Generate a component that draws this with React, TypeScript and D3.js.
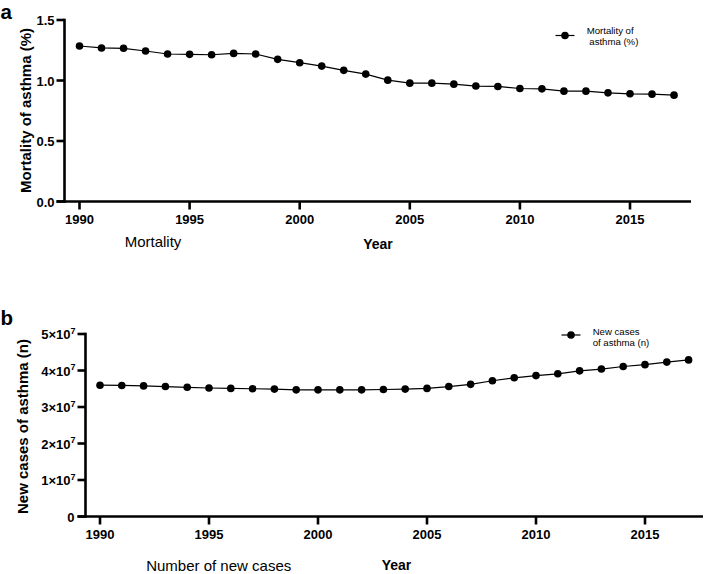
import React from "react";
import * as d3 from "d3";

const years = [1990, 1991, 1992, 1993, 1994, 1995, 1996, 1997, 1998, 1999, 2000, 2001, 2002, 2003, 2004, 2005, 2006, 2007, 2008, 2009, 2010, 2011, 2012, 2013, 2014, 2015, 2016, 2017];
const mortality = [1.285, 1.269, 1.266, 1.244, 1.219, 1.216, 1.213, 1.224, 1.219, 1.175, 1.147, 1.119, 1.084, 1.053, 1.003, 0.978, 0.978, 0.970, 0.954, 0.951, 0.934, 0.931, 0.912, 0.912, 0.898, 0.890, 0.887, 0.879];
const newCases = [35970000, 35900000, 35780000, 35600000, 35400000, 35200000, 35100000, 35000000, 34900000, 34700000, 34700000, 34700000, 34700000, 34800000, 34900000, 35100000, 35600000, 36200000, 37200000, 38000000, 38600000, 39100000, 39900000, 40400000, 41100000, 41600000, 42300000, 42900000];
const xTicks = [1990, 1995, 2000, 2005, 2010, 2015];
const mortTicks = [0, 0.5, 1.0, 1.5];
const mortTickLabels = ["0.0", "0.5", "1.0", "1.5"];
const caseTicks = [0, 10000000, 20000000, 30000000, 40000000, 50000000];
const caseTickMantissa = ["0", "1", "2", "3", "4", "5"];

const FONT = "'Liberation Sans', Arial, Helvetica, sans-serif";

type PanelProps = {
  letter: string;
  letterY: number;
  values: number[];
  yMax: number;
  ticks: number[];
  renderTick: (i: number, x: number, y: number) => React.ReactNode;
  axisX: number;
  axisRight: number;
  axisY: number;
  axisTop: number;
  x1990: number;
  x2015: number;
  yTitle: string;
  yTitleX: number;
  yTitleY: number;
  bottomLeft: string;
  bottomLeftX: number;
  bottomY: number;
  yearX: number;
  yearY: number;
  legendX: number;
  legendY: number;
  legendLines: { text: string; dx: number; y: number }[];
};

function Panel(p: PanelProps) {
  const pxPerYear = (p.x2015 - p.x1990) / 25;
  const x0 = 1990 - (p.x1990 - p.axisX) / pxPerYear;
  const x1 = 1990 + (p.axisRight - p.x1990) / pxPerYear;
  const x = d3.scaleLinear().domain([x0, x1]).range([p.axisX, p.axisRight]);
  const y = d3.scaleLinear().domain([0, p.yMax]).range([p.axisY, p.axisTop]);
  const line = d3
    .line<number>()
    .x((_, i) => x(years[i]))
    .y((d) => y(d));
  const sw = 2.6;
  return (
    <g fontFamily={FONT}>
      <text x={0.5} y={p.letterY} fontSize={20.5} fontWeight="bold">{p.letter}</text>
      {/* y axis */}
      <line x1={p.axisX} x2={p.axisX} y1={p.axisTop - sw / 2} y2={p.axisY + sw / 2} stroke="#000" strokeWidth={sw} />
      {p.ticks.map((t, i) => (
        <g key={"yt" + i}>
          <line x1={p.axisX - 8} x2={p.axisX} y1={y(t)} y2={y(t)} stroke="#000" strokeWidth={sw} />
          {p.renderTick(i, p.axisX - 10, y(t))}
        </g>
      ))}
      {/* x axis */}
      <line x1={p.axisX - 8} x2={p.axisRight} y1={p.axisY} y2={p.axisY} stroke="#000" strokeWidth={sw} />
      {xTicks.map((t) => (
        <g key={"xt" + t}>
          <line x1={x(t)} x2={x(t)} y1={p.axisY} y2={p.axisY + 8} stroke="#000" strokeWidth={sw} />
          <text x={x(t)} y={p.axisY + 22} fontSize={13} fontWeight="bold" textAnchor="middle">{t}</text>
        </g>
      ))}
      {/* data */}
      <path d={line(p.values) || ""} fill="none" stroke="#000" strokeWidth={1.2} />
      {p.values.map((v, i) => (
        <circle key={"c" + i} cx={x(years[i])} cy={y(v)} r={3.8} fill="#000" />
      ))}
      {/* y title */}
      <text transform={`translate(${p.yTitleX},${p.yTitleY}) rotate(-90)`} fontSize={15} fontWeight="bold" textAnchor="middle">{p.yTitle}</text>
      {/* bottom labels */}
      <text x={p.bottomLeftX} y={p.bottomY} fontSize={15} textAnchor="middle">{p.bottomLeft}</text>
      <text x={p.yearX} y={p.yearY} fontSize={14} fontWeight="bold" textAnchor="middle">Year</text>
      {/* legend */}
      <line x1={p.legendX - 9.5} x2={p.legendX + 9.5} y1={p.legendY} y2={p.legendY} stroke="#000" strokeWidth={1.2} />
      <circle cx={p.legendX} cy={p.legendY} r={3.8} fill="#000" />
      {p.legendLines.map((l, i) => (
        <text key={"lg" + i} x={p.legendX + l.dx} y={l.y} fontSize={9.6}>{l.text}</text>
      ))}
    </g>
  );
}

export default function App() {
  return (
    <svg width={709} height={574} style={{ position: "absolute", left: 0, top: 0, display: "block", background: "#fff" }}>
      <rect width={709} height={574} fill="#fff" />
      <Panel
        letter="a"
        letterY={18.5}
        values={mortality}
        yMax={1.5}
        ticks={mortTicks}
        renderTick={(i, tx, ty) => (
          <text x={tx} y={ty + 5} fontSize={13} fontWeight="bold" textAnchor="end">{mortTickLabels[i]}</text>
        )}
        axisX={64.5}
        axisRight={691}
        axisY={201.5}
        axisTop={20}
        x1990={79.5}
        x2015={630}
        yTitle="Mortality of asthma (%)"
        yTitleX={31}
        yTitleY={110.5}
        bottomLeft="Mortality"
        bottomLeftX={153}
        bottomY={247}
        yearX={378}
        yearY={249}
        legendX={565}
        legendY={35.5}
        legendLines={[
          { text: "Mortality of", dx: 21.7, y: 34 },
          { text: "asthma (%)", dx: 24.3, y: 45 },
        ]}
      />
      <Panel
        letter="b"
        letterY={325}
        values={newCases}
        yMax={50000000}
        ticks={caseTicks}
        renderTick={(i, tx, ty) =>
          i === 0 ? (
            <text x={tx - 1} y={ty + 5} fontSize={13} fontWeight="bold" textAnchor="end">0</text>
          ) : (
            <text x={tx} y={ty + 5} fontSize={13} fontWeight="bold" textAnchor="end">
              {caseTickMantissa[i] + "×10"}
              <tspan fontSize={9} dy={-5.5}>7</tspan>
            </text>
          )
        }
        axisX={85.5}
        axisRight={703}
        axisY={516.5}
        axisTop={334}
        x1990={100}
        x2015={645}
        yTitle="New cases of asthma (n)"
        yTitleX={28}
        yTitleY={426.5}
        bottomLeft="Number of new cases"
        bottomLeftX={218.7}
        bottomY={571}
        yearX={396.5}
        yearY={570}
        legendX={571}
        legendY={335}
        legendLines={[
          { text: "New cases", dx: 21.7, y: 334.5 },
          { text: "of asthma (n)", dx: 21.7, y: 346 },
        ]}
      />
    </svg>
  );
}
